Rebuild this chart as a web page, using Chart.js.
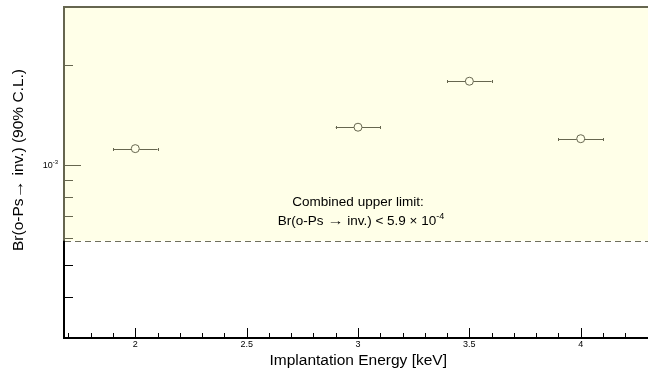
<!DOCTYPE html>
<html>
<head>
<meta charset="utf-8">
<script src="https://cdn.jsdelivr.net/npm/chart.js@4.4.1/dist/chart.umd.min.js"></script>
<style>
  html, body { margin: 0; padding: 0; background: #fff; overflow: hidden; width: 648px; height: 368px; }
  #wrap { position: relative; width: 660px; height: 368px; }
</style>
</head>
<body>
<div id="wrap"><canvas id="c" width="660" height="368"></canvas></div>
<script>
// Measured upper limits per implantation energy
const energies      = [2.0, 3.0, 3.5, 4.0];
const energyErrors  = [0.1, 0.1, 0.1, 0.1];
const upperLimits   = [1.12e-3, 1.30e-3, 1.79e-3, 1.20e-3];
const combinedLimit = 5.9e-4;

// Axis ranges and ticks
const xRange       = [1.68, 4.32];
const yRange       = [3e-4, 3e-3];
const xMajorTicks  = [2, 2.5, 3, 3.5, 4];
const xTickLabels  = ['2', '2.5', '3', '3.5', '4'];
const xMinorTicks  = [1.7, 1.8, 1.9, 2.1, 2.2, 2.3, 2.4, 2.6, 2.7, 2.8, 2.9,
                      3.1, 3.2, 3.3, 3.4, 3.6, 3.7, 3.8, 3.9, 4.1, 4.2, 4.3];
const yMajorTicks  = [1e-3];
const yTickBase    = ['10'];
const yTickExp     = ['-3'];
const yMinorTicks  = [4e-4, 5e-4, 6e-4, 7e-4, 8e-4, 9e-4, 2e-3];

const xTitle = 'Implantation Energy [keV]';
const noteLine1 = 'Combined upper limit:';

const FONT  = '"Liberation Sans", Arial, Helvetica, sans-serif';

// text runs: [text, size, raise, horizontal stretch]
const yTitleRuns = [
  ['Br(o-Ps', 15.5, 0, 1], ['\u2192', 15.5, 0, 1.2], [' inv.) (90% C.L.)', 15.5, 0, 1]
];
const noteRuns = [
  ['Br(o-Ps ', 13.5, 0, 1], ['\u2192', 13.5, 0, 1.2], [' inv.) < 5.9 \u00d7 10', 13.5, 0, 1],
  ['-4', 9, 5, 1]
];

function runWidth(ctx, r) { ctx.font = r[1] + 'px ' + FONT; return ctx.measureText(r[0]).width * r[3]; }
function runsWidth(ctx, runs) { return runs.reduce((w, r) => w + runWidth(ctx, r), 0); }
function drawRuns(ctx, runs, xLeft, y) {
  let px = xLeft;
  ctx.textAlign = 'left';
  runs.forEach(r => {
    const w = runWidth(ctx, r);
    ctx.save();
    ctx.translate(px, y - r[2]);
    ctx.scale(r[3], 1);
    ctx.fillText(r[0], 0, 0);
    ctx.restore();
    px += w;
  });
}

function seg(ctx, x1, y1, x2, y2) {
  ctx.beginPath(); ctx.moveTo(x1, y1); ctx.lineTo(x2, y2); ctx.stroke();
}
const crisp = v => Math.round(v) + 0.5;

const framePlugin = {
  id: 'rootFrame',
  beforeDatasetsDraw(chart) {
    const { ctx, chartArea: a, scales: { x, y } } = chart;
    ctx.save();
    ctx.strokeStyle = '#000';
    ctx.lineWidth = 1;

    // ticks pointing into the frame
    xMajorTicks.forEach(v => { const p = crisp(x.getPixelForValue(v)); seg(ctx, p, a.bottom, p, a.bottom - 10); });
    xMinorTicks.forEach(v => { const p = crisp(x.getPixelForValue(v)); seg(ctx, p, a.bottom, p, a.bottom - 5); });
    yMajorTicks.forEach(v => { const p = crisp(y.getPixelForValue(v)); seg(ctx, a.left, p, a.left + 17, p); });
    yMinorTicks.forEach(v => { const p = crisp(y.getPixelForValue(v)); seg(ctx, a.left, p, a.left + 9, p); });

    // horizontal error bars
    energies.forEach((e, i) => {
      const py = crisp(y.getPixelForValue(upperLimits[i]));
      const x1 = x.getPixelForValue(e - energyErrors[i]);
      const x2 = x.getPixelForValue(e + energyErrors[i]);
      const xc = x.getPixelForValue(e);
      seg(ctx, x1, py, xc - 4, py);
      seg(ctx, xc + 4, py, x2, py);
      seg(ctx, crisp(x1), py - 1.5, crisp(x1), py + 1.5);
      seg(ctx, crisp(x2), py - 1.5, crisp(x2), py + 1.5);
    });

    // frame
    ctx.lineWidth = 2;
    ctx.strokeRect(a.left, a.top, a.right - a.left, a.bottom - a.top);
    ctx.restore();
  },
  afterDatasetsDraw(chart) {
    const { ctx, chartArea: a, scales: { x, y } } = chart;
    const yl = y.getPixelForValue(combinedLimit);
    ctx.save();
    // excluded region
    ctx.fillStyle = 'rgba(255,255,197,0.4)';
    ctx.fillRect(a.left - 1, a.top - 1, a.right - a.left + 2, yl - a.top + 1);

    // combined limit
    ctx.strokeStyle = '#6f6f5e';
    ctx.lineWidth = 1;
    ctx.setLineDash([6, 4]);
    seg(ctx, a.left + 1, crisp(yl), a.right, crisp(yl));
    ctx.setLineDash([]);

    // note
    ctx.fillStyle = '#000';
    ctx.font = '13.5px ' + FONT;
    ctx.textBaseline = 'middle';
    ctx.textAlign = 'center';
    const cx = x.getPixelForValue(3.0);
    ctx.fillText(noteLine1, cx, yl - 38);
    const w2 = runsWidth(ctx, noteRuns);
    drawRuns(ctx, noteRuns, cx + 3 - w2 / 2, yl - 19);
    ctx.restore();
  },
  afterDraw(chart) {
    const { ctx, chartArea: a, scales: { x, y } } = chart;
    ctx.save();
    ctx.fillStyle = '#000';
    // x tick labels
    ctx.font = '9px ' + FONT;
    ctx.textAlign = 'center';
    ctx.textBaseline = 'middle';
    xMajorTicks.forEach((v, i) => ctx.fillText(xTickLabels[i], x.getPixelForValue(v), a.bottom + 7));
    // y tick labels
    yMajorTicks.forEach((v, i) => {
      const py = y.getPixelForValue(v);
      ctx.font = '6px ' + FONT;
      ctx.textAlign = 'right';
      const we = ctx.measureText(yTickExp[i]).width;
      ctx.fillText(yTickExp[i], a.left - 6, py - 3);
      ctx.font = '9px ' + FONT;
      ctx.fillText(yTickBase[i], a.left - 6 - we, py + 1);
    });
    // axis titles
    ctx.font = '15.5px ' + FONT;
    ctx.textAlign = 'right';
    ctx.textBaseline = 'alphabetic';
    ctx.fillText(xTitle, 447, a.bottom + 27);
    ctx.translate(23, 160);
    ctx.rotate(-Math.PI / 2);
    const wt = runsWidth(ctx, yTitleRuns);
    drawRuns(ctx, yTitleRuns, -wt / 2, 0);
    ctx.restore();
  }
};

new Chart(document.getElementById('c'), {
  type: 'scatter',
  data: {
    datasets: [{
      data: energies.map((e, i) => ({ x: e, y: upperLimits[i] })),
      pointStyle: 'circle',
      pointRadius: 4,
      pointHoverRadius: 4,
      borderWidth: 1,
      borderColor: '#000',
      backgroundColor: 'rgba(0,0,0,0)',
      showLine: false
    }]
  },
  options: {
    responsive: false,
    animation: false,
    layout: { padding: { left: 64, top: 7, right: 8, bottom: 30 } },
    plugins: { legend: { display: false }, tooltip: { enabled: false } },
    scales: {
      x: { type: 'linear', min: xRange[0], max: xRange[1], display: false },
      y: { type: 'logarithmic', min: yRange[0], max: yRange[1], display: false }
    }
  },
  plugins: [framePlugin]
});
</script>
</body>
</html>
